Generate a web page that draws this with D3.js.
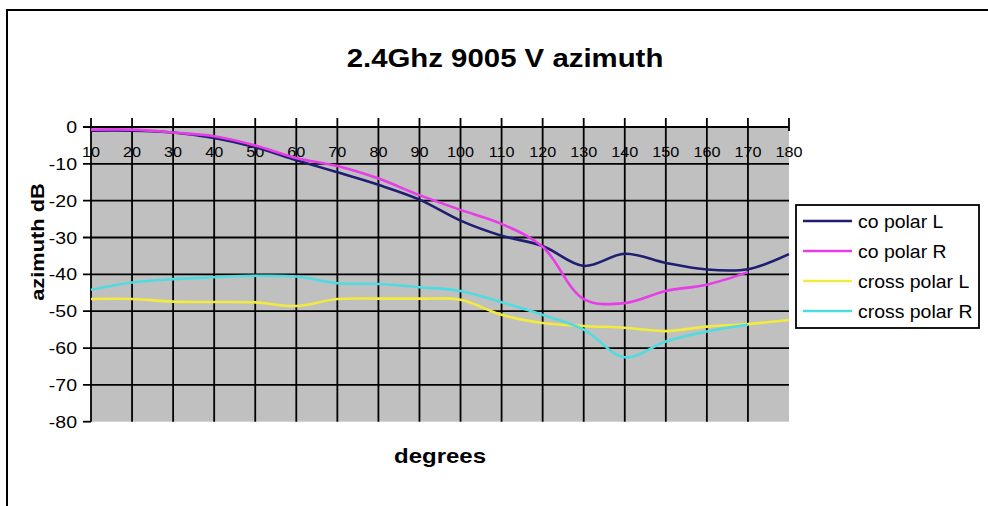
<!DOCTYPE html>
<html>
<head>
<meta charset="utf-8">
<script src="https://cdn.jsdelivr.net/npm/d3@7"></script>
<style>
  body { margin: 0; background: #fff; }
  text { font-family: "Liberation Sans", Arial, sans-serif; fill: #000; }
</style>
</head>
<body>
<div id="chart"></div>
<script>
// datos
var degrees = [10, 20, 30, 40, 50, 60, 70, 80, 90, 100, 110, 120, 130, 140, 150, 160, 170, 180];
var coPolarL = [-1, -1, -1.5, -3, -5.5, -9, -12.3, -15.7, -19.7, -25.4, -29.5, -32.3, -37.7, -34.4, -36.9, -38.7, -38.6, -34.5];
var coPolarR = [-0.7, -0.7, -1.5, -2.5, -5, -8.4, -10.6, -14, -18.5, -22.5, -26.3, -32.5, -46.7, -47.8, -44.5, -42.8, -39.4, null];
var crossPolarL = [-46.7, -46.7, -47.4, -47.5, -47.6, -48.6, -46.7, -46.6, -46.6, -46.9, -51, -53.2, -54, -54.5, -55.4, -54.2, -53.5, -52.4];
var crossPolarR = [-44.2, -42.2, -41.3, -40.8, -40.4, -40.6, -42.4, -42.6, -43.5, -44.5, -47.6, -51, -55, -62.5, -58.2, -55.5, -53.7, null];
var yTicks = [0, -10, -20, -30, -40, -50, -60, -70, -80];
var seriesNames = ["co polar L", "co polar R", "cross polar L", "cross polar R"];
var seriesColors = ["#1e1e72", "#e83ce8", "#f2ea3c", "#4fdce0"];

var W = 988, H = 506;
var x0 = 91, x1 = 789, y0 = 127, y1 = 421.7;

var svg = d3.select("#chart").append("svg")
  .attr("width", W).attr("height", H);

// marco exterior
svg.append("rect")
  .attr("x", 7).attr("y", 10).attr("width", 1000).attr("height", 520)
  .attr("fill", "#fff").attr("stroke", "#000").attr("stroke-width", 2);

var x = d3.scaleLinear().domain([10, 180]).range([x0, x1]);
var y = d3.scaleLinear().domain([0, -80]).range([y0, y1]);

// area gris
svg.append("rect")
  .attr("x", x0).attr("y", y0).attr("width", x1 - x0).attr("height", y1 - y0)
  .attr("fill", "#c0c0c0");

// texto con estirado horizontal (la imagen original viene ensanchada)
function stretchText(g, tx, ty, sx, str) {
  return g.append("text")
    .attr("transform", "translate(" + tx + "," + ty + ") scale(" + sx + ",1)")
    .text(str);
}

// lineas de grilla horizontales
svg.append("g").selectAll("line")
  .data(yTicks.filter(function(d){ return d > -80; }))
  .enter().append("line")
  .attr("x1", x0 - 8).attr("x2", x1)
  .attr("y1", function(d){ return y(d); }).attr("y2", function(d){ return y(d); })
  .attr("stroke", "#000").attr("stroke-width", 1.8);

svg.append("line")
  .attr("x1", x0 - 8).attr("x2", x0).attr("y1", y(-80)).attr("y2", y(-80))
  .attr("stroke", "#000").attr("stroke-width", 1.8);

// lineas de grilla verticales
svg.append("g").selectAll("line")
  .data(degrees)
  .enter().append("line")
  .attr("x1", function(d){ return x(d); }).attr("x2", function(d){ return x(d); })
  .attr("y1", y0 - 9)
  .attr("y2", function(d){ return d === 180 ? y0 + 4 : y1; })
  .attr("stroke", "#000").attr("stroke-width", 1.8);

// etiquetas eje y
var gy = svg.append("g").attr("font-size", 16).attr("text-anchor", "end");
yTicks.forEach(function(d){
  stretchText(gy, 77, y(d) + 6, 1.22, d);
});

// etiquetas eje x
var gx = svg.append("g").attr("font-size", 15).attr("text-anchor", "middle");
degrees.forEach(function(d){
  stretchText(gx, x(d), 157, 1.08, d);
});

// series
var line = d3.line()
  .defined(function(d){ return d[1] != null; })
  .x(function(d){ return x(d[0]); })
  .y(function(d){ return y(d[1]); })
  .curve(d3.curveCatmullRom.alpha(0.5));

var allSeries = [coPolarL, coPolarR, crossPolarL, crossPolarR];
allSeries.forEach(function(vals, i){
  svg.append("path")
    .datum(degrees.map(function(d, j){ return [d, vals[j]]; }))
    .attr("d", line)
    .attr("fill", "none")
    .attr("stroke", seriesColors[i])
    .attr("stroke-width", 2.6);
});

// titulo
var gt = svg.append("g").attr("font-size", 26).attr("font-weight", "bold").attr("text-anchor", "middle");
stretchText(gt, 505, 67, 1.13, "2.4Ghz 9005 V azimuth");

// titulos de ejes
var gxl = svg.append("g").attr("font-size", 20).attr("font-weight", "bold").attr("text-anchor", "middle");
stretchText(gxl, 440, 463, 1.2, "degrees");

svg.append("text")
  .attr("transform", "translate(44,242) rotate(-90) scale(1.15,1)")
  .attr("font-size", 19).attr("font-weight", "bold").attr("text-anchor", "middle")
  .text("azimuth dB");

// leyenda
var leg = svg.append("g");
leg.append("rect")
  .attr("x", 796).attr("y", 205).attr("width", 183).attr("height", 123)
  .attr("fill", "#fff").attr("stroke", "#000").attr("stroke-width", 1.8);

seriesNames.forEach(function(name, i){
  var ly = 221 + i * 30;
  leg.append("line")
    .attr("x1", 803).attr("x2", 852).attr("y1", ly).attr("y2", ly)
    .attr("stroke", seriesColors[i]).attr("stroke-width", 2.6);
  var t = stretchText(leg, 858, ly + 6.5, 1.08, name);
  t.attr("font-size", 18);
});
</script>
</body>
</html>
